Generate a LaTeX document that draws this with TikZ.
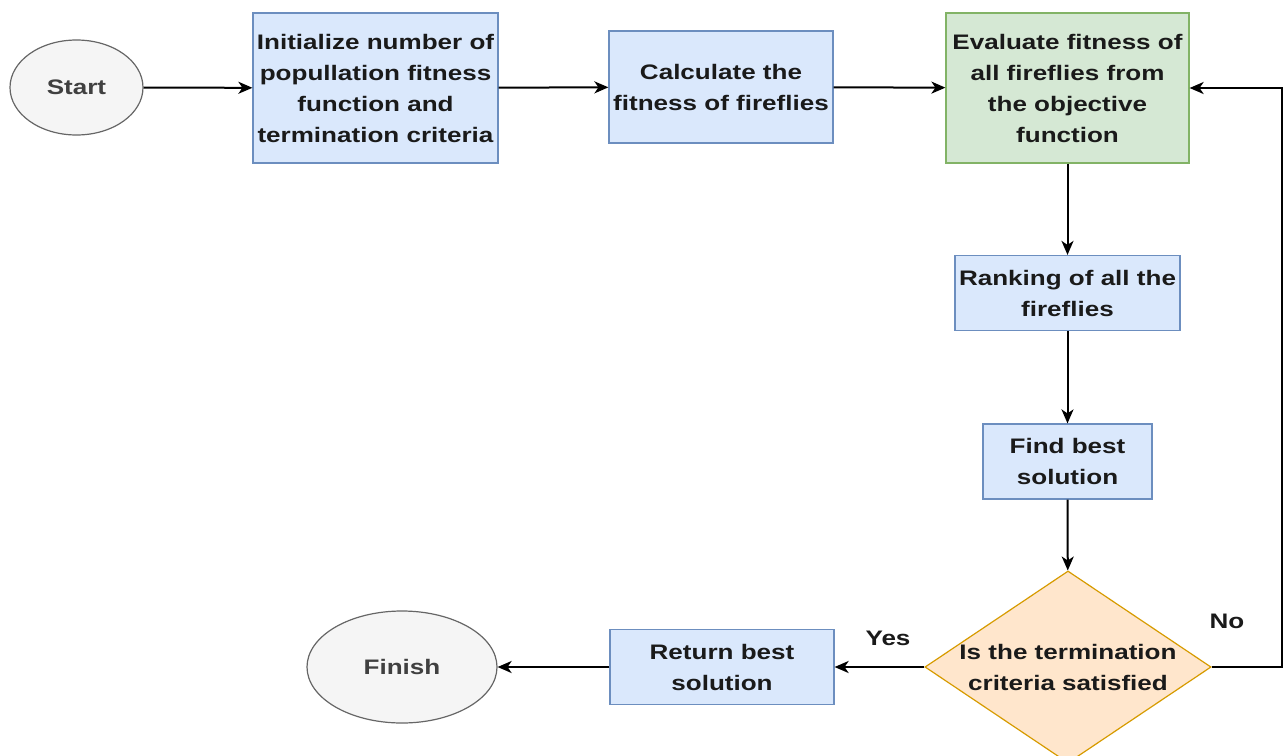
\documentclass[tikz,border=0pt]{standalone}
\usepackage{fontspec}
\setmainfont{Liberation Sans}[FakeStretch=1.24]
\usetikzlibrary{shapes.geometric,arrows.meta}
\definecolor{bluefill}{HTML}{DAE8FC}
\definecolor{blueline}{HTML}{6C8EBF}
\definecolor{greenfill}{HTML}{D5E8D4}
\definecolor{greenline}{HTML}{82B366}
\definecolor{orangefill}{HTML}{FFE6CC}
\definecolor{orangeline}{HTML}{D79B00}
\definecolor{greyfill}{HTML}{F5F5F5}
\definecolor{greyline}{HTML}{666666}
\definecolor{txt}{HTML}{1A1A1A}
\tikzset{
  lbl/.style={font=\fontsize{21}{31}\selectfont\bfseries, text=txt, align=center, inner sep=0pt},
  procbox/.style={lbl, rectangle, draw=blueline, fill=bluefill, line width=1.2pt},
  evalbox/.style={lbl, rectangle, draw=greenline, fill=greenfill, line width=1.2pt},
  decbox/.style={lbl, diamond, aspect=1.49, draw=orangeline, fill=orangefill, line width=1.2pt},
  termbox/.style={lbl, ellipse, draw=greyline, fill=greyfill, line width=1.2pt, text=black!75},
  arr/.style={-{Stealth[length=14pt,width=12pt,inset=4pt]}, line width=2pt, black}
}
\begin{document}
\begin{tikzpicture}[x=1pt,y=-1pt]
\useasboundingbox (0,0) rectangle (1287,755);
\node[termbox, minimum width=133pt, minimum height=95pt] (start) at (76.5,87.5) {Start};
\node[procbox, minimum width=245pt, minimum height=150pt] (init) at (375.5,88) {Initialize number of\\popullation fitness\\function and\\termination criteria};
\node[procbox, minimum width=224pt, minimum height=112pt] (calc) at (721,87) {Calculate the\\fitness of fireflies};
\node[evalbox, minimum width=243pt, minimum height=150pt] (eval) at (1067.5,88) {Evaluate fitness of\\all fireflies from\\the objective\\function};
\node[procbox, minimum width=225pt, minimum height=75pt] (rank) at (1067.5,293) {Ranking of all the\\fireflies};
\node[procbox, minimum width=169pt, minimum height=75pt] (find) at (1067.5,461.5) {Find best\\solution};
\node[decbox, minimum width=280pt, minimum height=188pt] (dec) at (1068,667) {Is the termination\\criteria satisfied};
\node[procbox, minimum width=224pt, minimum height=75pt] (ret) at (722,667) {Return best\\solution};
\node[termbox, minimum width=190pt, minimum height=112pt] (fin) at (402,667) {Finish};
\node[lbl] (yes) at (888,638) {Yes};
\node[lbl] (no) at (1227,621) {No};
\coordinate (loop) at (1282,667);
\draw[arr] (start) -- (init);
\draw[arr] (init) -- (calc);
\draw[arr] (calc) -- (eval);
\draw[arr] (eval) -- (rank);
\draw[arr] (rank) -- (find);
\draw[arr] (find) -- (dec);
\draw[arr] (dec) -- (ret);
\draw[arr] (ret) -- (fin);
\draw[arr] (dec.east) -- (loop) |- (eval.east);
\end{tikzpicture}
\end{document}
